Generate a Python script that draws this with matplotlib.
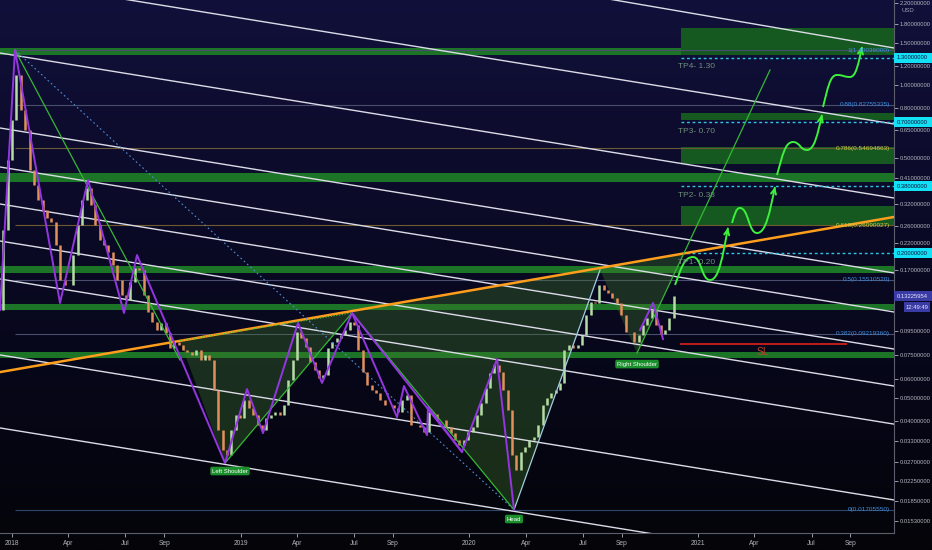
import numpy as np
import pandas as pd
import matplotlib
matplotlib.use('Agg')
import matplotlib.pyplot as plt
from matplotlib.path import Path
from matplotlib.patches import PathPatch, Rectangle, Polygon
from matplotlib.transforms import IdentityTransform, blended_transform_factory
from matplotlib.colors import LinearSegmentedColormap
from matplotlib.ticker import NullLocator

plt.rcParams['font.family'] = ['Liberation Sans Narrow', 'Liberation Sans', 'DejaVu Sans']

# ---------------- data ----------------
week_start = '2017-12-18'
first_open = 0.1159
closes = [0.2495, 0.4882, 0.7164, 1.103, 0.7884, 0.6509, 0.4435, 0.3841, 0.3327, 0.3023,
          0.2799, 0.2694, 0.2161, 0.1545, 0.1473, 0.1473, 0.1963, 0.2618, 0.3327, 0.3732,
          0.3171, 0.2618, 0.2267, 0.2161, 0.2020, 0.1784, 0.1545, 0.1338, 0.1275, 0.1516,
          0.1733, 0.1701, 0.1338, 0.1137, 0.1033, 0.0956, 0.1023, 0.0929, 0.0805, 0.0853,
          0.0828, 0.0790, 0.0775, 0.0753, 0.0790, 0.0717, 0.0753, 0.0717, 0.0538, 0.0367,
          0.0303, 0.0289, 0.0367, 0.0423, 0.0411, 0.0489, 0.0453, 0.0423, 0.0385, 0.0367,
          0.0411, 0.0423, 0.0436, 0.0423, 0.0466, 0.0592, 0.0717, 0.0938, 0.0886, 0.0813,
          0.0703, 0.0652, 0.0604, 0.0621, 0.0805, 0.0853, 0.0886, 0.0912, 0.0956, 0.1033,
          0.1003, 0.0790, 0.0639, 0.0565, 0.0538, 0.0523, 0.0489, 0.0466, 0.0466, 0.0453,
          0.0436, 0.0489, 0.0513, 0.0385, 0.0385, 0.0377, 0.0360, 0.0436, 0.0427, 0.0404,
          0.0404, 0.0377, 0.0356, 0.0333, 0.0318, 0.0333, 0.0360, 0.0377, 0.0423, 0.0475,
          0.0549, 0.0633, 0.0684, 0.0639, 0.0538, 0.0444, 0.0289, 0.0250, 0.0297, 0.0312,
          0.0333, 0.0343, 0.0385, 0.0466, 0.0498, 0.0523, 0.0538, 0.0576, 0.0790, 0.0828,
          0.0805, 0.0828, 0.0912, 0.1104, 0.1251, 0.1239, 0.1473, 0.1404, 0.1364, 0.1300,
          0.1239, 0.1104, 0.0938, 0.0938, 0.0853, 0.0912, 0.1003, 0.1073, 0.1159, 0.1003,
          0.0920, 0.0956, 0.1073, 0.1325]

# zigzag pivots (decimal year, price)
zz_x = [2017.9475, 2018.0131, 2018.2099, 2018.3323, 2018.4897, 2018.5466, 2018.9314,
        2019.0275, 2019.0975, 2019.2505, 2019.3555, 2019.4867, 2019.6834, 2019.7140,
        2019.8146, 2019.8190, 2019.9676, 2020.1207, 2020.1950]
zz_p = [0.1159, 1.40036, 0.1239, 0.4030, 0.1126, 0.1963, 0.0267, 0.0543, 0.0356, 0.1023,
        0.0576, 0.1126, 0.0415, 0.0559, 0.0349, 0.0457, 0.0297, 0.0724, 0.017055]
zz2_x = [2019.4867, 2019.9676]
zz2_p = [0.1126, 0.0297]
rs_x = [2020.7461, 2020.8028, 2020.8465]
rs_p = [0.0956, 0.1239, 0.0877]

# pattern lines
g_peak_x, g_peak_p = [2018.0131, 2018.7346], [1.40036, 0.0717]
g_ls_x, g_ls_p = [2018.9314, 2019.4867], [0.0267, 0.1126]
g_hd_x, g_hd_p = [2019.4867, 2020.1950], [0.1126, 0.017055]
proj_x, proj_p = [2020.7329, 2021.3144], [0.0767, 1.157]
neck_x, neck_p = [2018.7346, 2019.4867], [0.0864, 0.1126]
rise_x, rise_p = [2020.1950, 2020.5711], [0.017055, 0.1701]
dot_x, dot_p = [2018.0131, 2020.1950], [1.40036, 0.017055]
orange_x, orange_p = [2017.9475, 2021.8566], [0.0639, 0.2827]
shade_x = [2018.9314, 2019.4867, 2020.1950, 2020.5711, 2020.7329]
shade_p = [0.0267, 0.1126, 0.017055, 0.1701, 0.0767]
shade_start = 2018.7346

# descending parallel channel (price at left edge, price at right edge)
chan_left = [6.223, 2.768, 1.3618, 0.6635, 0.4565, 0.3202, 0.2245, 0.1560, 0.0753, 0.0374]
chan_right = [1.4288, 0.6894, 0.3391, 0.1652, 0.1137, 0.0797, 0.0559, 0.0388, 0.01875, 0.00931]

# support / resistance bands
band_lo = [1.336, 0.3953, 0.1652, 0.1159, 0.0731]
band_hi = [1.4288, 0.431, 0.1767, 0.1227, 0.0775]
box_x0 = 2020.9252
box_lo = [1.336, 0.7164, 0.4698, 0.2618]
box_hi = [1.731, 0.7661, 0.553, 0.3141]

# take profits
tp_vals = [1.30, 0.70, 0.38, 0.20]
tp_text = ['TP4- 1.30', 'TP3- 0.70', 'TP2- 0.38', 'TP1- 0.20']

# fibonacci
fib_x0 = 2018.0131
fib_lvl = ['1', '0.88', '0.786', '0.618', '0.5', '0.382', '0']
fib_p = [1.40036, 0.82755335, 0.54694863, 0.26090027, 0.15510520, 0.09219360, 0.01705550]
fib_col = ['#3d8fe0', '#3d8fe0', '#c9c94a', '#c9c94a', '#3d8fe0', '#3d8fe0', '#3d8fe0']
fib_line = ['#4a4e6e', '#4a4e6e', '#6b5c36', '#6e5a2c', '#4a4e6e', '#4a4e6e', '#2f4566']

# stop loss
sl_x, sl_p = [2020.9209, 2021.6511], 0.0837
sl_txt_x, sl_txt_p = 2021.2837, 0.0775

# projected waves
waves = [
    ([2020.8991, 2020.9777, 2021.0521, 2021.1308], [0.1473, 0.1926, 0.1545, 0.2549]),
    ([2021.1483, 2021.1833, 2021.2575, 2021.3363], [0.2668, 0.3081, 0.2424, 0.3768]),
    ([2021.3450, 2021.4150, 2021.4762, 2021.5418], [0.4228, 0.5801, 0.5373, 0.7516]),
    ([2021.5461, 2021.6074, 2021.6642, 2021.7167], [0.8115, 1.103, 1.082, 1.4426]),
]

# labels
shoulder_labels = [('Left Shoulder', 2018.9532, 0.02475), ('Head', 2020.1950, 0.01562),
                   ('Right Shoulder', 2020.7329, 0.0690)]

# axis
y_ticks = [2.2, 1.8, 1.5, 1.2, 1.0, 0.8, 0.65, 0.5, 0.41, 0.32, 0.26, 0.22, 0.17,
           0.095, 0.075, 0.06, 0.05, 0.04, 0.033, 0.027, 0.0225, 0.0185, 0.0153]
x_tick_pos = [2018.0, 2018.2466, 2018.4959, 2018.6658, 2019.0, 2019.2466, 2019.4959, 2019.6658,
              2020.0, 2020.2466, 2020.4959, 2020.6658, 2021.0, 2021.2466, 2021.4959, 2021.6658]
x_tick_lab = ['2018', 'Apr', 'Jul', 'Sep', '2019', 'Apr', 'Jul', 'Sep',
              '2020', 'Apr', 'Jul', 'Sep', '2021', 'Apr', 'Jul', 'Sep']
last_price = 0.13225954
last_time = '12:49:49'

X0, X1 = 2017.9475, 2021.8566
P_MIN, P_MAX = 0.01366, 2.2636

AX_FS = 4.25

# ---------------- figure ----------------
fig = plt.figure(figsize=(9.32, 5.5), dpi=100)
bgax = fig.add_axes([0, 0, 1, 1], zorder=-10)
cmap = LinearSegmentedColormap.from_list('bg', ['#11103a', '#0c0b2a', '#07071a', '#040409'])
bgax.imshow(np.linspace(0, 1, 256).reshape(-1, 1), aspect='auto', cmap=cmap,
            extent=[0, 1, 0, 1])
bgax.axis('off')

ax = fig.add_axes([0, 17 / 550, 894 / 932, 533 / 550])
ax.set_facecolor('none')
ax.set_yscale('log')
ax.set_xlim(X0, X1)
ax.set_ylim(P_MIN, P_MAX)

for s in ['top', 'left']:
    ax.spines[s].set_visible(False)
for s in ['bottom', 'right']:
    ax.spines[s].set_color('#5c5e6e')
    ax.spines[s].set_linewidth(0.8)


def lerp_log(xa, pa, xb, pb, x):
    t = (x - xa) / (xb - xa)
    return float(np.exp(np.log(pa) + t * (np.log(pb) - np.log(pa))))


# bands & boxes
for lo, hi in zip(band_lo, band_hi):
    ax.axhspan(lo, hi, color='#1c7426', lw=0, zorder=1)
for lo, hi in zip(box_lo, box_hi):
    ax.fill_between([box_x0, X1], lo, hi, color='#155820', lw=0, zorder=1)

# fib lines
btr = blended_transform_factory(ax.transAxes, ax.transData)
for lv, p, c, lc in zip(fib_lvl, fib_p, fib_col, fib_line):
    ax.hlines(p, fib_x0, X1, colors=lc, lw=0.8, zorder=2)
    ax.text(0.9955, p, f'{lv}({p:.8f})', transform=btr, ha='right', va='center',
            fontsize=4.6, color=c, zorder=9)

# shaded pattern: between neckline and the pattern pivots
slope_o = (np.log(orange_p[1]) - np.log(orange_p[0])) / (orange_x[1] - orange_x[0])
slope_p = (np.log(proj_p[1]) - np.log(proj_p[0])) / (proj_x[1] - proj_x[0])
x_int = ((np.log(proj_p[0]) - slope_p * proj_x[0]) - (np.log(orange_p[0]) - slope_o * orange_x[0])) / (slope_o - slope_p)
p_int = lerp_log(orange_x[0], orange_p[0], orange_x[1], orange_p[1], x_int)
verts = [(shade_start, lerp_log(orange_x[0], orange_p[0], orange_x[1], orange_p[1], shade_start))]
verts += list(zip(shade_x, shade_p)) + [(x_int, p_int)]
ax.add_patch(Polygon(verts, closed=True, fc='#3f7a2a', alpha=0.35, lw=0, zorder=2))

# channel lines
for l, r in zip(chan_left, chan_right):
    ax.plot([X0, X1], [l, r], color='#dcdce8', lw=1.0, zorder=3)

# tp dashed lines & text
for v, t in zip(tp_vals, tp_text):
    ax.hlines(v, box_x0, X1, colors='#2ec6e8', linestyles=(0, (2, 2)), lw=1.0, zorder=4)
    ax.annotate(t, xy=(2020.912, v), xytext=(0, -9), textcoords='offset pixels',
                ha='left', va='center', fontsize=6, color='#6f8f78', zorder=9)

# orange neckline
ax.plot(orange_x, orange_p, color='#ff9d1c', lw=1.8, zorder=6)

# candles
dates = pd.date_range(week_start, periods=len(closes), freq='7D')


def dec_year(d):
    a = pd.Timestamp(year=d.year, month=1, day=1)
    b = pd.Timestamp(year=d.year + 1, month=1, day=1)
    return d.year + (d - a) / (b - a)


cx = np.array([dec_year(d) for d in dates])
cl = np.array(closes)
op = np.concatenate([[first_open], cl[:-1]])
cols = np.where(cl >= op, '#b6dca6', '#e2905c')
ax.vlines(cx, np.minimum(op, cl), np.maximum(op, cl), colors=cols, lw=1.8, zorder=5)

# pattern lines
ax.plot(dot_x, dot_p, color='#4d8fd6', lw=0.8, ls=(0, (1.5, 2.5)), zorder=6)
ax.plot(neck_x, neck_p, color='#3fbf3f', lw=0.8, ls=(0, (1, 1.5)), zorder=6)
for xs, ps in [(g_peak_x, g_peak_p), (g_ls_x, g_ls_p), (g_hd_x, g_hd_p), (proj_x, proj_p)]:
    ax.plot(xs, ps, color='#35b835', lw=0.9, zorder=6)
ax.plot(rise_x, rise_p, color='#a2cfe0', lw=0.9, zorder=6)
ax.plot(zz_x, zz_p, color='#9436e0', lw=1.4, zorder=7)
ax.plot(zz2_x, zz2_p, color='#9436e0', lw=1.4, zorder=7)
ax.plot(rs_x, rs_p, color='#9436e0', lw=1.4, zorder=7)

# stop loss
ax.hlines(sl_p, sl_x[0], sl_x[1], colors='#e0201c', lw=1.2, zorder=6)
ax.text(sl_txt_x, sl_txt_p, 'SL', ha='center', va='center', fontsize=7.5, color='#b5452e', zorder=9)


# waves
def draw_wave(xs, ps, color='#3cf03c', lw=1.4):
    lp = np.log(ps)
    v = [(xs[0], ps[0])]
    codes = [Path.MOVETO]
    n = len(xs)
    c2 = None
    for i in range(n - 1):
        dx = xs[i + 1] - xs[i]
        if i == 0:
            c1 = (xs[i] + 0.35 * dx, np.exp(lp[i] + 0.6 * (lp[i + 1] - lp[i])))
        else:
            c1 = (xs[i] + 0.5 * dx, ps[i])
        if i == n - 2:
            c2 = (xs[i + 1] - 0.3 * dx, np.exp(lp[i + 1] - 0.55 * (lp[i + 1] - lp[i])))
        else:
            c2 = (xs[i + 1] - 0.5 * dx, ps[i + 1])
        v += [c1, c2, (xs[i + 1], ps[i + 1])]
        codes += [Path.CURVE4] * 3
    ax.add_patch(PathPatch(Path(v, codes), fc='none', ec=color, lw=lw, zorder=8))
    tx, tp = xs[-1], ps[-1]
    bx = tx - 0.15 * (tx - c2[0])
    bp = np.exp(np.log(tp) - 0.15 * (np.log(tp) - np.log(c2[1])))
    ax.annotate('', xy=(tx, tp), xytext=(bx, bp),
                arrowprops=dict(arrowstyle='->', color=color, lw=lw, mutation_scale=9,
                                shrinkA=0, shrinkB=0), zorder=8)


for wx, wp in waves:
    draw_wave(wx, wp)

# shoulder / head labels
for t, x, p in shoulder_labels:
    ax.text(x, p, t, ha='center', va='center', fontsize=4.3, color='white', zorder=10,
            bbox=dict(boxstyle='round,pad=0.3', fc='#1b8f2b', ec='none'))

# axes ticks
ax.yaxis.tick_right()
ax.yaxis.set_minor_locator(NullLocator())
ax.set_yticks(y_ticks)
ax.set_yticklabels([f'{t:.8f}' for t in y_ticks])
ax.tick_params(axis='y', labelsize=AX_FS, colors='#b2b5be', length=3, width=0.6, pad=1)
ax.xaxis.set_minor_locator(NullLocator())
ax.set_xticks(x_tick_pos)
ax.set_xticklabels(x_tick_lab)
ax.tick_params(axis='x', labelsize=4.8, colors='#b2b5be', length=3, width=0.6, pad=2)

# axis highlight labels (pixel space)
ident = IdentityTransform()
for v in tp_vals:
    yp = ax.transData.transform((X0, v))[1]
    fig.add_artist(Rectangle((894, yp - 5), 38, 10, transform=ident, fc='#14e0f5', ec='none', zorder=20))
    fig.text(897, yp, f'{v:.8f}', transform=ident, ha='left', va='center', fontsize=AX_FS,
             color='#0c1440', zorder=21)
yp = ax.transData.transform((X0, last_price))[1]
fig.add_artist(Rectangle((894, yp - 5), 38, 10, transform=ident, fc='#3b3ba6', ec='none', zorder=20))
fig.text(897, yp, f'{last_price:.8f}', transform=ident, ha='left', va='center', fontsize=AX_FS,
         color='#e6e6ff', zorder=21)
fig.add_artist(Rectangle((904, yp - 16), 26, 10, transform=ident, fc='#3b3ba6', ec='none', zorder=20))
fig.text(917, yp - 11, last_time, transform=ident, ha='center', va='center', fontsize=AX_FS,
         color='#e6e6ff', zorder=21)
fig.text(901, 539, 'USD', transform=ident, ha='left', va='center', fontsize=4.3,
         color='#9a9db0', zorder=21)

fig.savefig('out.png', dpi=100)
